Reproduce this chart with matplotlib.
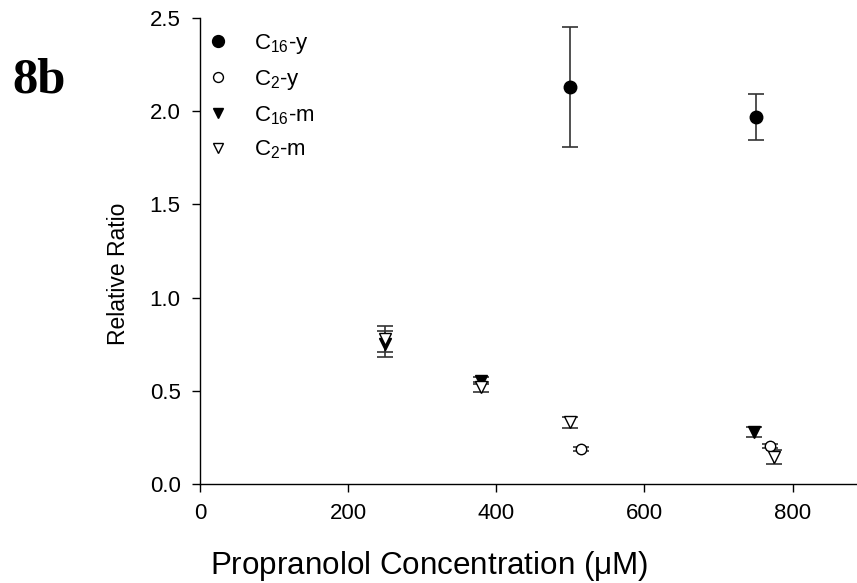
import matplotlib.pyplot as plt
from matplotlib.lines import Line2D

plt.rcParams['font.family'] = ['Liberation Sans', 'DejaVu Sans']
plt.rcParams['mathtext.fontset'] = 'custom'
plt.rcParams['mathtext.rm'] = 'Liberation Sans'
plt.rcParams['mathtext.it'] = 'Liberation Sans:italic'

# propranolol concentration (uM), relative ratio and standard error per series
c16y_x = [500, 750]
c16y_y = [2.13, 1.97]
c16y_err = [0.32, 0.125]

c2y_x = [515, 770]
c2y_y = [0.186, 0.205]
c2y_err = [0.01, 0.012]

c16m_x = [250, 380, 748]
c16m_y = [0.75, 0.555, 0.28]
c16m_err = [0.07, 0.02, 0.028]

c2m_x = [250, 380, 500, 775]
c2m_y = [0.78, 0.52, 0.33, 0.145]
c2m_err = [0.07, 0.025, 0.03, 0.04]

series = [
    (c16y_x, c16y_y, c16y_err, 'o', 'black', 9.0, '$\\mathregular{C_{16}}$-y'),
    (c2y_x, c2y_y, c2y_err, 'o', 'white', 7.5, '$\\mathregular{C_{2}}$-y'),
    (c16m_x, c16m_y, c16m_err, 'v', 'black', 8.0, '$\\mathregular{C_{16}}$-m'),
    (c2m_x, c2m_y, c2m_err, 'v', 'white', 8.0, '$\\mathregular{C_{2}}$-m'),
]

fig = plt.figure(figsize=(8.57, 5.83), dpi=100)
ax = fig.add_axes([0.2334, 0.1698, 0.7666, 0.7993])

handles = []
for xs, ys, errs, mk, face, ms, label in series:
    ax.errorbar(xs, ys, yerr=errs, fmt='none', ecolor='#333333',
                elinewidth=1.2, capsize=5.5, capthick=1.2, zorder=2)
    ax.plot(xs, ys, linestyle='none', marker=mk, markersize=ms,
            markerfacecolor=face, markeredgecolor='black',
            markeredgewidth=1.0, zorder=3)
    handles.append(Line2D([], [], linestyle='none', marker=mk,
                          markersize=ms * 0.95, markerfacecolor=face,
                          markeredgecolor='black', markeredgewidth=1.0,
                          label=label))

ax.set_xlim(0, 887)
ax.set_ylim(0, 2.5)
ax.set_xticks([0, 200, 400, 600, 800])
ax.set_yticks([0.0, 0.5, 1.0, 1.5, 2.0, 2.5])
ax.set_yticklabels(['0.0', '0.5', '1.0', '1.5', '2.0', '2.5'])
ax.tick_params(direction='out', length=6, width=1, labelsize=16, pad=8)

for side in ['top', 'right']:
    ax.spines[side].set_visible(False)
for side in ['left', 'bottom']:
    ax.spines[side].set_linewidth(1.0)

ax.set_xlabel('Propranolol Concentration ($\\mathregular{\\mu}$M)', fontsize=22.6)
ax.xaxis.set_label_coords(0.349, -0.14)
ax.set_ylabel('Relative Ratio', fontsize=16.5)
ax.yaxis.set_label_coords(-0.106, 0.45)

ax.legend(handles=handles, loc='upper left', frameon=False, fontsize=16,
          handlelength=0.8, handletextpad=1.25, labelspacing=0.55,
          borderaxespad=0.0, bbox_to_anchor=(0.0, 0.99))

fig.text(0.015, 0.842, '8b', fontsize=36.5, fontweight='bold',
         family=['Liberation Serif', 'DejaVu Serif'])

fig.savefig('out.png', dpi=100)
